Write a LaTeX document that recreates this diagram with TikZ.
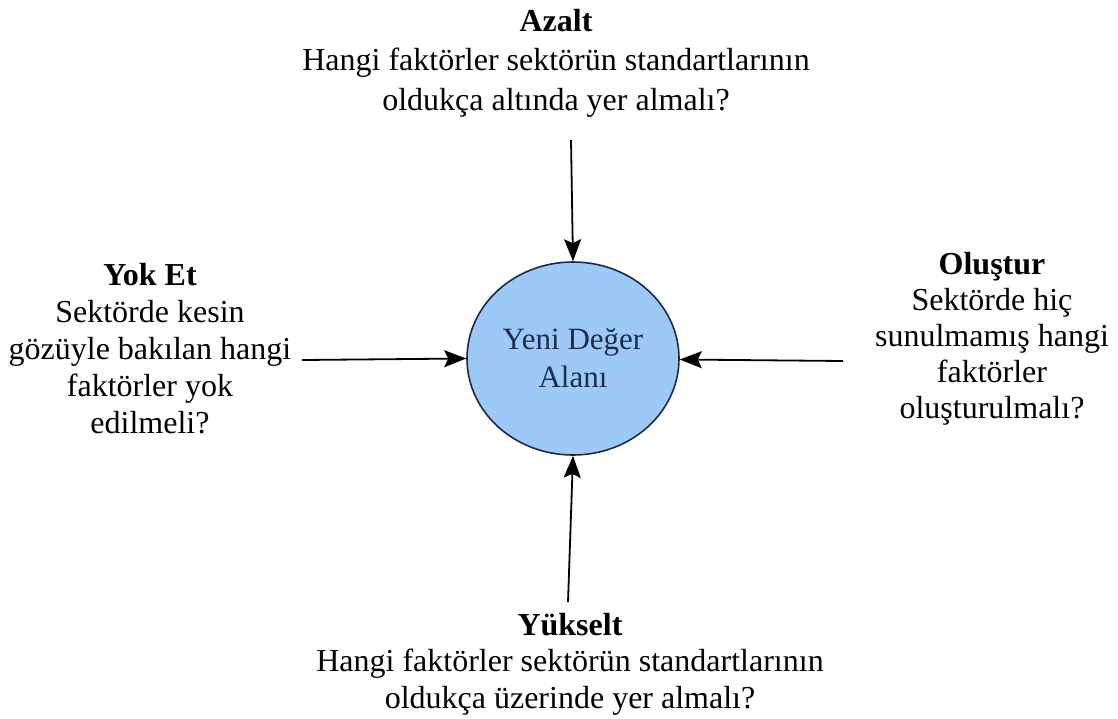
\documentclass[tikz,border=0pt]{standalone}
\usepackage{fontspec}
\setmainfont{Liberation Serif}
\usetikzlibrary{arrows.meta,shapes.geometric}
\definecolor{circfill}{HTML}{9DC9F6}
\definecolor{circdraw}{HTML}{1B2B45}
\definecolor{circtext}{HTML}{1F2D4D}
\tikzset{
  lbl/.style={align=center, inner sep=0pt, anchor=base, font=\fontsize{32}{38.5}\selectfont},
  hub/.style={ellipse, draw=circdraw, fill=circfill, line width=1.6pt, minimum width=212pt, minimum height=193pt, inner sep=0pt, align=center, text=circtext, font=\fontsize{31}{38}\selectfont},
  conn/.style={line width=1.8pt, -{Stealth[length=22pt,width=17pt,inset=4pt]}}
}
\begin{document}
\begin{tikzpicture}[x=1pt,y=-1pt]
\useasboundingbox (0,0) rectangle (1118,718);
\node[hub] (c) at (573,358.5) {Yeni Değer\\Alanı};
\node[lbl, font=\fontsize{32}{39.5}\selectfont] (top) at (556,110) {\textbf{Azalt}\\Hangi faktörler sektörün standartlarının\\oldukça altında yer almalı?};
\node[lbl, font=\fontsize{32}{37}\selectfont] (left) at (150,433) {\textbf{Yok Et}\\Sektörde kesin\\gözüyle bakılan hangi\\faktörler yok\\edilmeli?};
\node[lbl, font=\fontsize{32}{36}\selectfont] (right) at (992,418) {\textbf{Oluştur}\\Sektörde hiç\\sunulmamış hangi\\faktörler\\oluşturulmalı?};
\node[lbl, font=\fontsize{32}{36.5}\selectfont] (bottom) at (570,708) {\textbf{Yükselt}\\Hangi faktörler sektörün standartlarının\\oldukça üzerinde yer almalı?};
\coordinate (tA) at (571,140);
\coordinate (tL) at (302,360);
\coordinate (tR) at (843,361);
\coordinate (tB) at (568,602);
\draw[conn] (tA) -- (c.north);
\draw[conn] (tL) -- (c.west);
\draw[conn] (tR) -- (c);
\draw[conn] (tB) -- (c.south);
\end{tikzpicture}
\end{document}
